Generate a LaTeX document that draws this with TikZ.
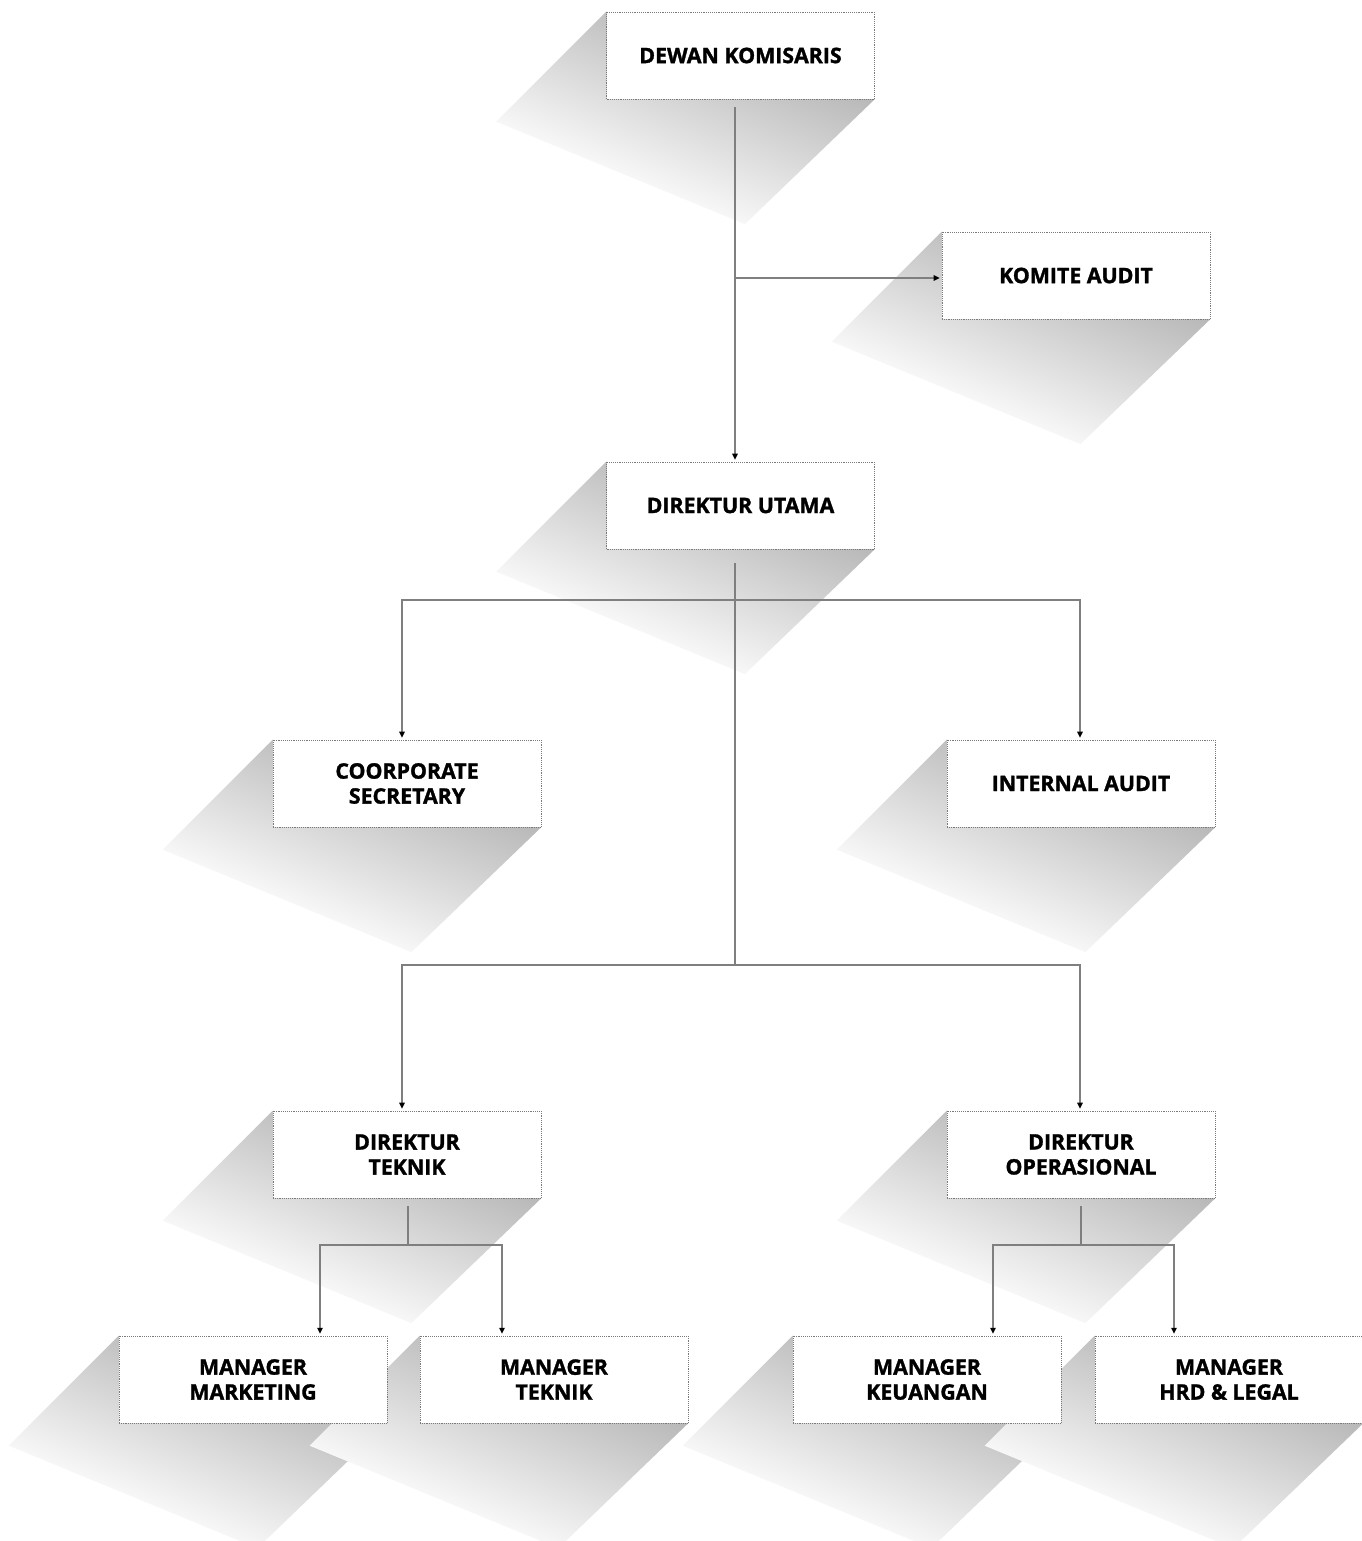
\documentclass[tikz,border=0pt]{standalone}
\usepackage{fontspec}
\setmainfont{Open Sans}[BoldFeatures={FakeBold=1.4}]
\usetikzlibrary{arrows.meta,calc,backgrounds}
\definecolor{linegray}{HTML}{7F7F7F}
\definecolor{framegray}{HTML}{7A7A7A}
\definecolor{shadedark}{HTML}{B4B4B4}
\definecolor{shadelight}{HTML}{F7F7F7}
\tikzset{
  link/.style={draw=linegray, line width=2.1pt},
  tip/.style={-{Triangle[length=4.5pt,width=4pt,color=black]}, shorten >=1.5pt},
  tips/.style={{Triangle[length=4.5pt,width=4pt,color=black]}-{Triangle[length=4.5pt,width=4pt,color=black]}, shorten >=1.5pt, shorten <=1.5pt},
}
\begin{document}
\begin{tikzpicture}[x=0.75pt,y=-0.75pt]
        \useasboundingbox (0,0) rectangle (1362,1541);

        \begin{scope}[every node/.style={draw=framegray, densely dotted, line width=0.4pt, fill=white,
            minimum width=201pt, minimum height=65.25pt, inner sep=0pt, align=center,
            font=\bfseries\fontsize{16}{18.75}\selectfont}]
          \node (1)  at (740.5,55.5)   {DEWAN KOMISARIS};
          \node (2)  at (1076,275.5)   {KOMITE AUDIT};
          \node (3)  at (740.5,505.5)  {DIREKTUR UTAMA};
          \node (4)  at (407,783.5)    {COORPORATE\\SECRETARY};
          \node (5)  at (1081,783.5)   {INTERNAL AUDIT};
          \node (6)  at (407,1154.5)   {DIREKTUR\\TEKNIK};
          \node (7)  at (1081,1154.5)  {DIREKTUR\\OPERASIONAL};
          \node (8)  at (253,1379.5)   {MANAGER\\MARKETING};
          \node (9)  at (554,1379.5)   {MANAGER\\TEKNIK};
          \node (10) at (927,1379.5)   {MANAGER\\KEUANGAN};
          \node (11) at (1229,1379.5)  {MANAGER\\HRD \& LEGAL};
        \end{scope}

        \coordinate (s1) at (735,278);
        \coordinate (s2) at (735,600);
        \coordinate (s3) at (735,965);
        \coordinate (l1) at (402,600);
        \coordinate (r1) at (1080,600);
        \coordinate (l2) at (402,965);
        \coordinate (r2) at (1080,965);
        \coordinate (t0) at (408,1245);
        \coordinate (t1) at (320,1245);
        \coordinate (t2) at (502,1245);
        \coordinate (o0) at (1081,1245);
        \coordinate (o1) at (993,1245);
        \coordinate (o2) at (1174,1245);

        \begin{pgfonlayer}{background}
          \foreach \n in {1,...,11} {
            \begin{scope}
              \clip (\n.north west) -- ++(-110,110) -- ($(\n.south east)+(-130,125)$) -- (\n.south east) -- cycle;
              \begin{scope}[transform canvas={shift={($(\n.north west)+(-110,110)$)}, rotate=-22.4}]
                \shade[top color=shadedark, bottom color=shadelight] (-40,-175) rectangle (420,0);
              \end{scope}
            \end{scope}
          }

          \draw[link,tip,shorten <=6pt] (1.south -| s1) -- (3.north -| s1);
          \draw[link,tip] (s1) -- (s1 -| 2.west);
          \draw[link,shorten <=10.5pt] (3.south -| s1) -- (s3);
          \draw[link,tips] (4.north -| l1) -- (l1) -- (r1) -- (5.north -| r1);
          \draw[link,tips] (6.north -| l2) -- (l2) -- (r2) -- (7.north -| r2);
          \draw[link,shorten <=6pt] (6.south -| t0) -- (t0);
          \draw[link,tips] (8.north -| t1) -- (t1) -- (t2) -- (9.north -| t2);
          \draw[link,shorten <=6pt] (7.south -| o0) -- (o0);
          \draw[link,tips] (10.north -| o1) -- (o1) -- (o2) -- (11.north -| o2);
        \end{pgfonlayer}

      \end{tikzpicture}
\end{document}
